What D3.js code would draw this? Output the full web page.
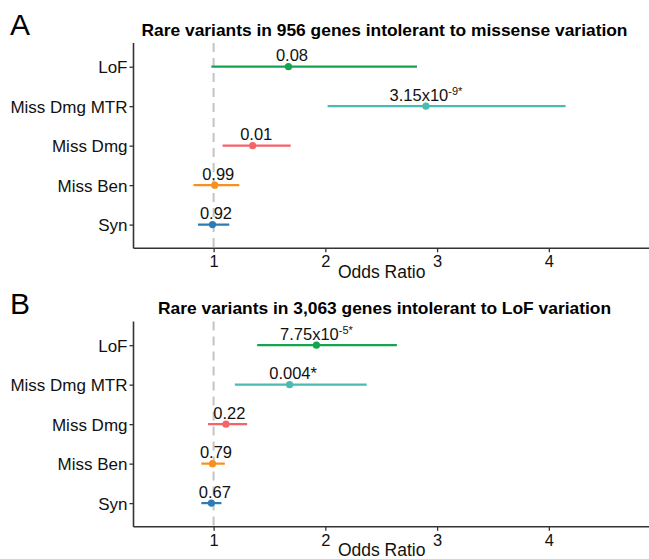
<!DOCTYPE html>
<html>
<head>
<meta charset="utf-8">
<script src="https://cdn.jsdelivr.net/npm/d3@7"></script>
<style>
  html, body { margin: 0; padding: 0; background: #fff; }
  svg { display: block; font-family: "Liberation Sans", Arial, sans-serif; }
</style>
</head>
<body>
<svg id="chart" width="649" height="559"></svg>
<script>
// ---- data ----
const categories = ["LoF", "Miss Dmg MTR", "Miss Dmg", "Miss Ben", "Syn"];
const seriesColors = ["#14a44d", "#4bbab3", "#f5626a", "#f7901e", "#2c7bb4"];
const xTicks = [1, 2, 3, 4];

const titleA = "Rare variants in 956 genes intolerant to missense variation";
const orA   = [1.67, 2.90, 1.35, 1.01, 0.99];
const lowA  = [0.98, 2.02, 1.08, 0.82, 0.86];
const highA = [2.82, 4.15, 1.69, 1.23, 1.14];
const pA    = ["0.08", "3.15x10", "0.01", "0.99", "0.92"];
const pSupA = ["", "-9*", "", "", ""];

const titleB = "Rare variants in 3,063 genes intolerant to LoF variation";
const orB   = [1.92, 1.68, 1.11, 0.99, 0.98];
const lowB  = [1.39, 1.19, 0.95, 0.89, 0.89];
const highB = [2.64, 2.37, 1.30, 1.10, 1.07];
const pB    = ["7.75x10", "0.004*", "0.22", "0.79", "0.67"];
const pSupB = ["-5*", "", "", "", ""];

const svg = d3.select("#chart");
const axisColor = "#333333";

function panel(letter, title, titleWidth, or, lo, hi, pTxt, pSup, top) {
  const g = svg.append("g").attr("transform", `translate(0,${top})`);
  const left = 133.5, right = 649.4;
  const plotTop = 43, plotBottom = 248.3;

  const x = d3.scaleLinear().domain([0.283, 4.9]).range([left, right]);
  const y = d3.scalePoint().domain(categories).range([plotTop, plotBottom]).padding(0.6);

  // panel letter
  g.append("text").attr("x", 10).attr("y", 35).attr("font-size", 30)
    .attr("fill", "#000").text(letter);
  // title
  g.append("text").attr("x", 384.5).attr("y", 35.5).attr("text-anchor", "middle")
    .attr("font-size", 16.5).attr("font-weight", "bold").attr("fill", "#000")
    .attr("textLength", titleWidth).attr("lengthAdjust", "spacingAndGlyphs")
    .text(title);

  // reference dashed line at OR = 1
  g.append("line").attr("x1", x(1)).attr("x2", x(1)).attr("y1", plotTop).attr("y2", plotBottom)
    .attr("stroke", "#c4c4c4").attr("stroke-width", 2).attr("stroke-dasharray", "9,6");

  // error bars
  categories.forEach((c, i) => {
    g.append("line").attr("x1", x(lo[i])).attr("x2", x(hi[i]))
      .attr("y1", y(c)).attr("y2", y(c))
      .attr("stroke", seriesColors[i]).attr("stroke-width", 2.2);
    g.append("circle").attr("cx", x(or[i])).attr("cy", y(c)).attr("r", 3.6)
      .attr("fill", seriesColors[i]);
    const t = g.append("text").attr("y", y(c) - 5.5)
      .attr("font-size", 16.5).attr("fill", "#111").attr("text-anchor", "middle");
    if (pSup[i]) {
      t.attr("x", x(or[i]));
      t.append("tspan").text(pTxt[i]);
      t.append("tspan").attr("font-size", 11).attr("dy", -6).text(pSup[i]);
    } else {
      t.attr("x", x(or[i]) + 3.5).text(pTxt[i]);
    }
  });

  // y axis
  const yAxis = d3.axisLeft(y).tickSize(4).tickPadding(2);
  const ya = g.append("g").attr("transform", `translate(${left},0)`).call(yAxis);
  ya.select(".domain").attr("d", `M0,${plotTop}V${plotBottom}`)
    .attr("stroke", axisColor).attr("stroke-width", 1.6);
  ya.selectAll(".tick line").attr("stroke", axisColor).attr("stroke-width", 1.3);
  ya.selectAll(".tick text").attr("font-size", 17).attr("fill", "#111")
    .attr("font-family", "Liberation Sans, Arial, sans-serif").attr("dy", "0.36em");

  // x axis
  const xAxis = d3.axisBottom(x).tickValues(xTicks).tickSize(4).tickPadding(3)
    .tickFormat(d3.format("d"));
  const xa = g.append("g").attr("transform", `translate(0,${plotBottom})`).call(xAxis);
  xa.select(".domain").attr("d", `M${left},0H${right}`)
    .attr("stroke", axisColor).attr("stroke-width", 1.6);
  xa.selectAll(".tick line").attr("stroke", axisColor).attr("stroke-width", 1.3);
  xa.selectAll(".tick text").attr("font-size", 16.5).attr("fill", "#111")
    .attr("font-family", "Liberation Sans, Arial, sans-serif");

  // x axis title
  g.append("text").attr("x", 381.7).attr("y", 277.5).attr("text-anchor", "middle")
    .attr("font-size", 17.5).attr("fill", "#111").text("Odds Ratio");
}

panel("A", titleA, 486, orA, lowA, highA, pA, pSupA, 0);
panel("B", titleB, 453, orB, lowB, highB, pB, pSupB, 278.5);
</script>
</body>
</html>
